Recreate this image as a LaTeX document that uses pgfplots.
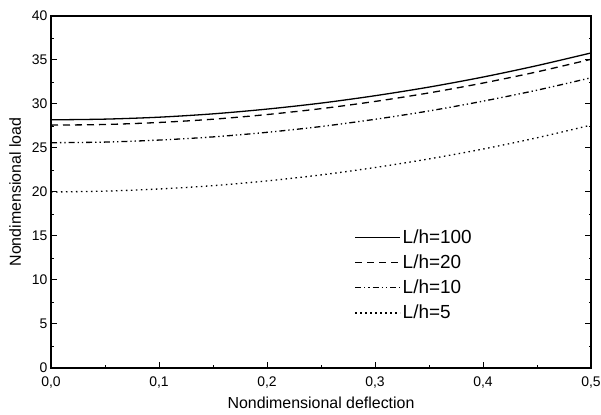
\documentclass[border=0pt]{standalone}
\usepackage{pgfplots}
\pgfplotsset{compat=1.18}
\usepackage{fontspec}
\setmainfont{Liberation Sans}
\begin{document}
\begin{tikzpicture}
\begin{axis}[
  scale only axis,
  width=540bp, height=352bp,
  xmin=0, xmax=0.5, ymin=0, ymax=40,
  xtick={0,0.1,0.2,0.3,0.4,0.5},
  ytick={0,5,10,15,20,25,30,35,40},
  minor x tick num=1,
  minor y tick num=1,
  tick align=inside,
  xtick pos=bottom,
  ytick pos=both,
  major tick length=6bp,
  minor tick length=2.5bp,
  axis line style={line width=1.2bp},
  every tick/.style={black, line width=1bp},
  every minor tick/.style={black, line width=0.6bp},
  /pgf/number format/assume math mode=true,
  xticklabel={\pgfmathprintnumber[fixed,fixed zerofill,precision=1,use comma]{\tick}},
  yticklabel={\pgfmathprintnumber[fixed,precision=0]{\tick}},
  every tick label/.append style={font=\fontsize{14}{16}\selectfont},
  xticklabel shift=5bp,
  yticklabel shift=0bp,
  xlabel={Nondimensional deflection},
  ylabel={Nondimensional load},
  every axis label/.append style={font=\fontsize{16}{19}\selectfont},
  xlabel style={yshift=-2bp},
  ylabel style={yshift=4bp},
  legend cell align=left,
  legend style={draw=none, fill=none, at={(0.556,0.405)}, anchor=north west,
    font=\fontsize{19}{22}\selectfont, row sep=6bp,
    nodes={inner sep=2bp}},
  legend image code/.code={\draw[#1] (0bp,0bp) -- (45bp,0bp);},
]
\addplot[black, line width=1.3bp, smooth] coordinates {
(0,28.20) (0.05,28.28) (0.1,28.50) (0.15,28.88) (0.2,29.42) (0.25,30.10)
(0.3,30.94) (0.35,31.92) (0.4,33.06) (0.45,34.36) (0.5,35.80)};
\addlegendentry{L/h=100}
\addplot[black, line width=1.3bp, smooth, dash pattern=on 7bp off 5bp] coordinates {
(0,27.60) (0.05,27.67) (0.1,27.90) (0.15,28.27) (0.2,28.80) (0.25,29.47)
(0.3,30.29) (0.35,31.26) (0.4,32.38) (0.45,33.65) (0.5,35.08)};
\addlegendentry{L/h=20}
\addplot[black, line width=1.3bp, smooth, dash pattern=on 6bp off 3bp on 1.3bp off 3bp on 1.3bp off 3bp] coordinates {
(0,25.60) (0.05,25.67) (0.1,25.90) (0.15,26.26) (0.2,26.78) (0.25,27.44)
(0.3,28.26) (0.35,29.21) (0.4,30.32) (0.45,31.57) (0.5,32.98)};
\addlegendentry{L/h=10}
\addplot[black, line width=1.3bp, smooth, dash pattern=on 1.5bp off 3.5bp] coordinates {
(0,20.00) (0.05,20.10) (0.1,20.34) (0.15,20.72) (0.2,21.26) (0.25,21.94)
(0.3,22.78) (0.35,23.76) (0.4,24.88) (0.45,26.16) (0.5,27.60)};
\addlegendentry{L/h=5}
\end{axis}
\pgfresetboundingbox
\path (current axis.south west) ++(-51bp,-47bp) coordinate (bbA);
\path (current axis.north east) ++(10bp,16bp) coordinate (bbB);
\path[use as bounding box] (bbA) rectangle (bbB);
\end{tikzpicture}
\end{document}
